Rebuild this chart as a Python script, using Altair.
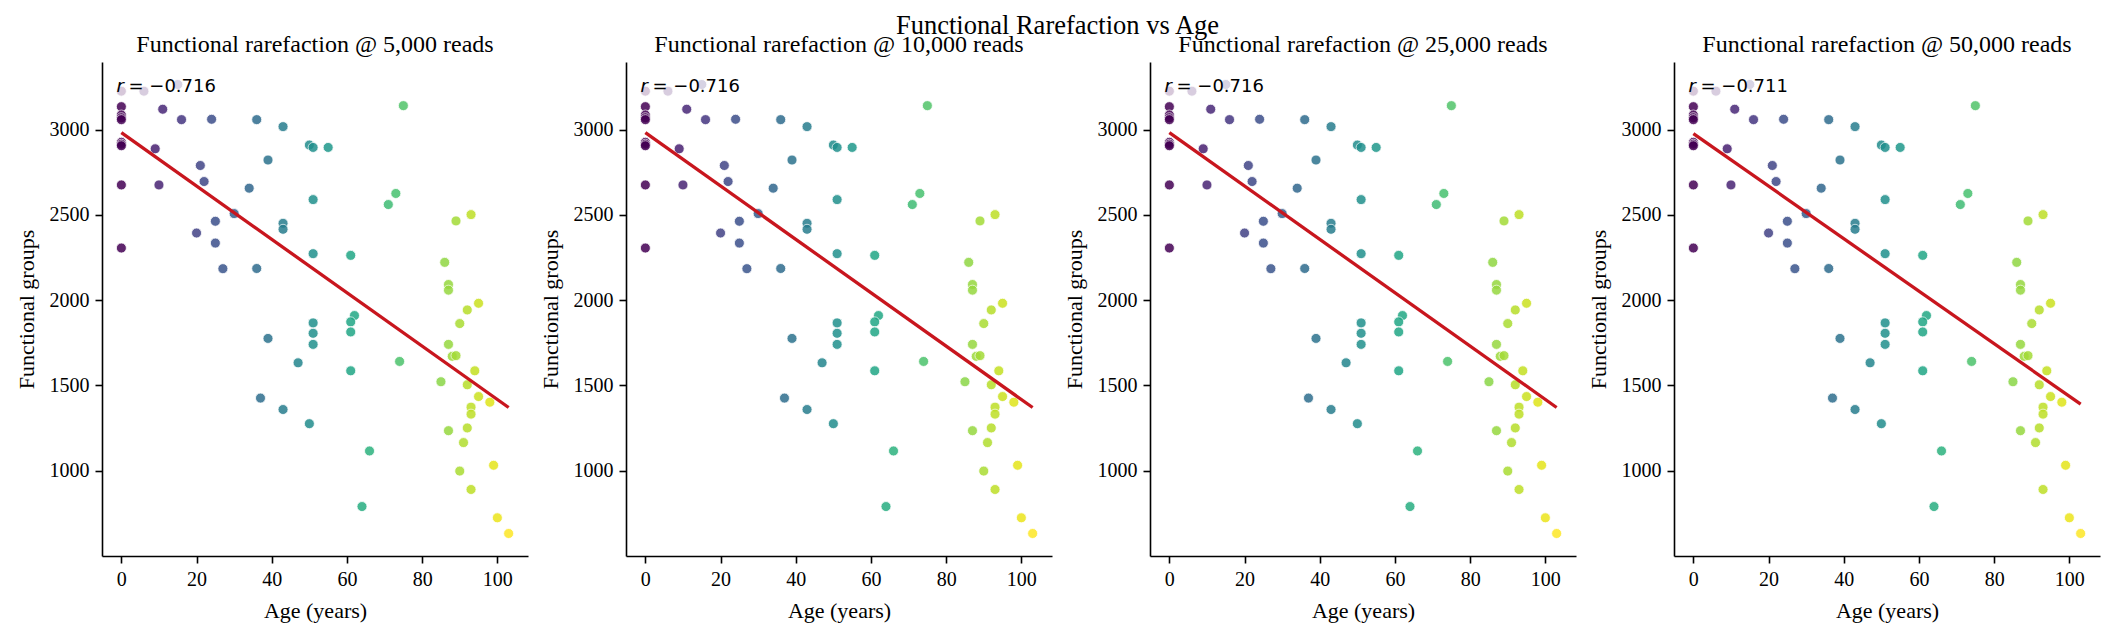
import altair as alt
import pandas as pd

# Sequencing depths shown side by side, and the Pearson r printed in each panel
DEPTHS = ["5,000", "10,000", "25,000", "50,000"]
R_LABELS = ["= \u22120.716", "= \u22120.716", "= \u22120.716", "= \u22120.711"]

# Donor age (years) and functional groups recovered, 5k / 10k / 25k reads
AGE = [0, 6, 15, 0, 0, 0, 0, 11, 16, 24,
       36, 43, 50, 51, 55, 0, 0, 0, 9, 21,
       39, 22, 0, 10, 34, 51, 75, 73, 71, 30,
       25, 43, 43, 20, 25, 0, 51, 61, 27, 36,
       89, 93, 86, 87, 87, 95, 92, 51, 51, 51,
       39, 47, 62, 61, 61, 61, 74, 37, 43, 50,
       66, 64, 90, 87, 88, 89, 85, 94, 92, 95,
       98, 93, 93, 92, 87, 91, 90, 93, 99, 100,
       103]
GROUPS = [3226, 3226, 3265, 3135, 3086, 3070, 3059, 3120, 3059, 3061,
          3059, 3018, 2910, 2896, 2896, 2926, 2915, 2906, 2888, 2790,
          2822, 2696, 2676, 2676, 2657, 2590, 3141, 2626, 2561, 2508,
          2463, 2451, 2416, 2394, 2335, 2306, 2273, 2263, 2185, 2186,
          2465, 2502, 2222, 2092, 2059, 1982, 1943, 1867, 1806, 1741,
          1776, 1633, 1910, 1873, 1814, 1586, 1641, 1426, 1359, 1276,
          1116, 790, 1863, 1741, 1671, 1675, 1522, 1586, 1504, 1435,
          1402, 1373, 1332, 1251, 1235, 1165, 998, 890, 1032, 724,
          632]

# At 50k reads one sample falls below the depth threshold
AGE_50K = [0, 6, 15, 0, 0, 0, 0, 11, 16, 24,
           36, 43, 50, 51, 55, 0, 0, 0, 9, 21,
           39, 22, 0, 10, 34, 51, 75, 73, 71, 30,
           25, 43, 43, 20, 25, 0, 51, 61, 27, 36,
           89, 93, 86, 87, 87, 95, 92, 51, 51, 51,
           39, 47, 62, 61, 61, 61, 74, 37, 43, 50,
           66, 64, 90, 87, 88, 89, 85, 94, 92, 95,
           98, 93, 93, 92, 87, 91, 93, 99, 100, 103]
GROUPS_50K = [3226, 3226, 3265, 3135, 3086, 3070, 3059, 3120, 3059, 3061,
              3059, 3018, 2910, 2896, 2896, 2926, 2915, 2906, 2888, 2790,
              2822, 2696, 2676, 2676, 2657, 2590, 3141, 2626, 2561, 2508,
              2463, 2451, 2416, 2394, 2335, 2306, 2273, 2263, 2185, 2186,
              2465, 2502, 2222, 2092, 2059, 1982, 1943, 1867, 1806, 1741,
              1776, 1633, 1910, 1873, 1814, 1586, 1641, 1426, 1359, 1276,
              1116, 790, 1863, 1741, 1671, 1675, 1522, 1586, 1504, 1435,
              1402, 1373, 1332, 1251, 1235, 1165, 890, 1032, 724, 632]

SERIES = [(AGE, GROUPS), (AGE, GROUPS), (AGE, GROUPS), (AGE_50K, GROUPS_50K)]

SERIF = "Liberation Serif"
FIT_RED = "#c8161e"


def panel(depth, ages, groups, r_label):
    df = pd.DataFrame({"age": ages, "groups": groups})
    base = alt.Chart(df)
    x = alt.X("age:Q",
              scale=alt.Scale(domain=[-5.15, 108.15], nice=False, zero=False),
              axis=alt.Axis(title="Age (years)", values=[0, 20, 40, 60, 80, 100],
                            format="d"))
    y = alt.Y("groups:Q",
              scale=alt.Scale(domain=[500, 3397], nice=False, zero=False),
              axis=alt.Axis(title="Functional groups",
                            values=[1000, 1500, 2000, 2500, 3000], format="d"))

    points = base.mark_circle(size=100, opacity=0.85, stroke="white",
                              strokeWidth=0.8).encode(
        x=x, y=y,
        color=alt.Color("age:Q", scale=alt.Scale(scheme="viridis", domain=[0, 103]),
                        legend=None),
    )
    fit = base.transform_regression("age", "groups").mark_line(
        color=FIT_RED, strokeWidth=3.3
    ).encode(x="age:Q", y="groups:Q")

    ann = alt.Chart(pd.DataFrame({"label": [r_label]}))
    box = ann.mark_rect(color="white", opacity=0.75, cornerRadius=4).encode(
        x=alt.value(9), x2=alt.value(114), y=alt.value(12), y2=alt.value(37)
    )
    r_sym = ann.mark_text(text="r", font="DejaVu Sans", fontStyle="italic",
                          fontSize=18, align="left", baseline="alphabetic",
                          color="black").encode(x=alt.value(14.5), y=alt.value(30.4))
    r_val = ann.mark_text(font="DejaVu Sans", fontSize=18, align="left",
                          baseline="alphabetic", color="black").encode(
        text="label:N", x=alt.value(26.5), y=alt.value(30.4))

    return alt.layer(points, fit, box, r_sym, r_val).properties(
        width=426, height=494,
        title=alt.TitleParams(f"Functional rarefaction @ {depth} reads",
                              baseline="alphabetic", offset=-14),
    )


panels = [panel(d, a, g, r) for d, (a, g), r in zip(DEPTHS, SERIES, R_LABELS)]

chart = alt.hconcat(*panels, spacing=98, bounds="flush").properties(
    title=alt.TitleParams("Functional Rarefaction vs Age", fontSize=26.5,
                          baseline="alphabetic", offset=-27, anchor="middle"),
    padding={"left": 15, "top": 12, "right": 5, "bottom": 5},
).configure_view(
    stroke=None
).configure_title(
    font=SERIF, fontSize=24, fontWeight="normal", color="black"
).configure_axis(
    grid=False,
    domainColor="black", domainWidth=1.6,
    tickColor="black", tickWidth=1.6, tickSize=7,
    labelFont=SERIF, labelFontSize=20, labelColor="black", labelPadding=6,
    titleFont=SERIF, titleFontSize=22, titleFontWeight="normal",
    titleColor="black", titlePadding=11,
)

chart.save("out.html", embed_options={"renderer": "svg", "actions": False})
